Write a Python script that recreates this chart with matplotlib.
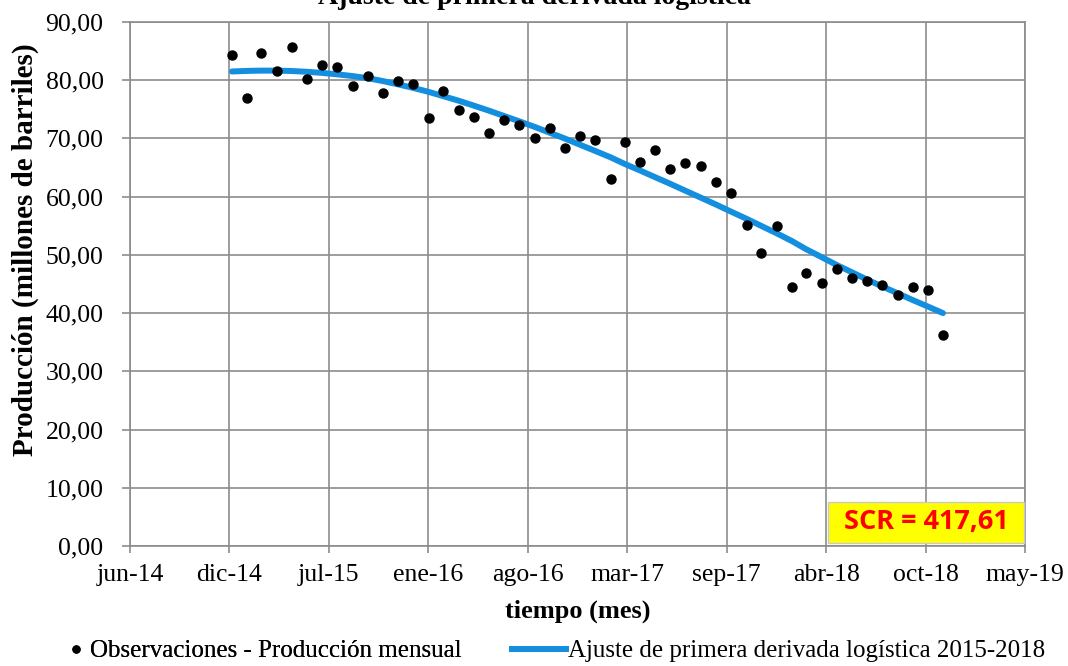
import matplotlib
matplotlib.use("Agg")
import matplotlib.pyplot as plt
from matplotlib.lines import Line2D
from matplotlib.patches import Rectangle
import datetime as dt

# ---------------- data ----------------
obs_dates = [dt.date(2015 + (i // 12), i % 12 + 1, 1) for i in range(48)]
obs_values = [84.4, 76.9, 84.7, 81.6, 85.7, 80.2, 82.6, 82.2, 79.0, 80.7, 77.8, 79.8,
              79.4, 73.5, 78.1, 74.8, 73.6, 71.0, 73.1, 72.3, 70.1, 71.8, 68.3, 70.5,
              69.8, 63.0, 69.4, 65.9, 68.0, 64.8, 65.8, 65.2, 62.6, 60.7, 55.2, 50.3,
              54.9, 44.5, 46.9, 45.2, 47.6, 46.0, 45.6, 44.9, 43.1, 44.5, 44.0, 36.2]
fit_values = [81.50, 81.60, 81.65, 81.65, 81.58, 81.45, 81.26, 81.01, 80.71, 80.35,
              79.85, 79.29, 78.67, 77.99, 77.26, 76.48, 75.65, 74.77, 73.87, 72.94,
              71.98, 70.99, 69.97, 68.92, 67.84, 66.74, 65.62, 64.49, 63.35, 62.19,
              61.02, 59.83, 58.63, 57.42, 56.20, 54.96, 53.69, 52.34, 50.97, 49.61,
              48.28, 47.01, 45.77, 44.57, 43.40, 42.25, 41.12, 40.00]
x_start = dt.date(2014, 6, 10)
tick_step_days = 200
tick_labels = ['jun-14', 'dic-14', 'jul-15', 'ene-16', 'ago-16', 'mar-17',
               'sep-17', 'abr-18', 'oct-18', 'may-19']
y_ticks = [0, 10, 20, 30, 40, 50, 60, 70, 80, 90]

title = "Ajuste de primera derivada logística"
xlabel = "tiempo (mes)"
ylabel = "Producción (millones de barriles)"
legend_obs = "Observaciones - Producción mensual"
legend_fit = "Ajuste de primera derivada logística 2015-2018"
scr_text = "SCR = 417,61"

# ---------------- style ----------------
plt.rcParams['font.family'] = ['Liberation Serif', 'DejaVu Serif']
W, H = 1068, 666
fig = plt.figure(figsize=(W / 100, H / 100), dpi=100)
ax = fig.add_axes([130 / W, 1 - 546 / H, (1025 - 130) / W, (546 - 22) / H])

grid_c = '#8c8c8c'
line_c = '#148fdf'

tick_dates = [x_start + dt.timedelta(days=tick_step_days * i) for i in range(len(tick_labels))]
ax.set_xlim(tick_dates[0], tick_dates[-1])
ax.set_ylim(0, 90)
ax.set_xticks(tick_dates)
ax.set_xticklabels(tick_labels)
ax.set_yticks(y_ticks)
ax.set_yticklabels([f"{v:.2f}".replace('.', ',') for v in y_ticks])

ax.grid(True, color=grid_c, linewidth=1.2)
ax.set_axisbelow(True)
for s in ax.spines.values():
    s.set_color(grid_c)
    s.set_linewidth(1.2)
ax.tick_params(axis='both', colors=grid_c, labelcolor='black', labelsize=18.5,
               direction='out', width=1.2)
ax.tick_params(axis='y', length=6, pad=13)
ax.tick_params(axis='x', length=5, pad=8)

ax.plot(obs_dates, fit_values, color=line_c, linewidth=4.3, solid_capstyle='round',
        zorder=3)
ax.plot(obs_dates, obs_values, linestyle='none', marker='o', markersize=6.5,
        color='black', zorder=4)

ax.set_xlabel(xlabel, fontsize=19, fontweight='bold', va='center')
ax.xaxis.set_label_coords(0.5, (546 - 611) / 524)
ax.set_ylabel(ylabel, fontsize=21, fontweight='bold', va='center')
ax.yaxis.set_label_coords((25 - 130) / 895, (546 - 250) / 524)

fig.text(0.5, 1 - 4 / H, title, ha='center', va='baseline', fontsize=20,
         fontweight='bold')

# SCR box
box_x0, box_x1 = 828 / W, 1024 / W
box_y0, box_y1 = 1 - 543 / H, 1 - 502 / H
fig.patches.append(Rectangle((box_x0, box_y0), box_x1 - box_x0, box_y1 - box_y0,
                             transform=fig.transFigure, facecolor='#ffff00',
                             edgecolor='#c8c8c8', linewidth=1, zorder=5))
fig.text((box_x0 + box_x1) / 2, (box_y0 + box_y1) / 2, scr_text, ha='center',
         va='center', fontsize=19.5, fontweight='bold', color='#ff0000',
         family=['Open Sans', 'DejaVu Sans'], zorder=6)

# legend (two entries, placed like the reference)
h_obs = Line2D([], [], linestyle='none', marker='o', markersize=5, color='black')
h_fit = Line2D([], [], color=line_c, linewidth=4.3)
leg1 = fig.legend([h_obs], [legend_obs], loc='center left',
                  bbox_to_anchor=(68 / W, 1 - 651 / H), frameon=False,
                  fontsize=18, handlelength=0.6, handletextpad=0.3,
                  borderaxespad=0, borderpad=0)
leg2 = fig.legend([h_fit], [legend_fit], loc='center left',
                  bbox_to_anchor=(512 / W, 1 - 651 / H), frameon=False,
                  fontsize=18, handlelength=2.16, handletextpad=0.1,
                  borderaxespad=0, borderpad=0)
fig.add_artist(leg1)

fig.savefig('out.png', dpi=100)
